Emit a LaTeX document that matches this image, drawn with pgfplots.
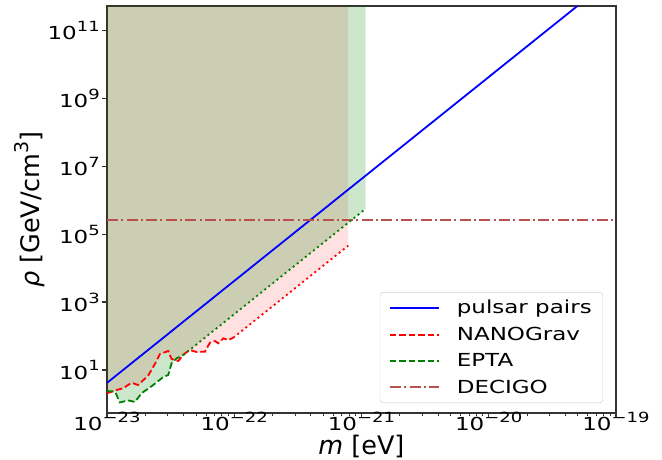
\documentclass[border=0pt]{standalone}
\usepackage{fontspec}
\setmainfont{DejaVu Sans}
\usepackage{graphicx}
\usepackage{pgfplots}
\pgfplotsset{compat=1.18}
\definecolor{decigo}{RGB}{185,80,80}
\definecolor{eptagreen}{RGB}{0,128,0}
\definecolor{nanored}{RGB}{255,0,0}
% text in the reference is a little flattened
\newcommand{\sq}[1]{\scalebox{1}[0.78]{#1}}
\newcommand{\tp}[1]{\sq{10\raisebox{0.45em}{\fontsize{18}{18}\selectfont #1}}}

\begin{document}
\begin{tikzpicture}
\useasboundingbox (-107pt,-46pt) rectangle (555pt,413pt);
\begin{axis}[
  at={(0,0)}, anchor=south west,
  scale only axis, width=509pt, height=407pt,
  xmode=log, ymode=log,
  xmin=1e-23, xmax=1e-19,
  ymin=0.543, ymax=5.13e11,
  xtick={1e-23,1e-22,1e-21,1e-20,1e-19},
  xticklabels={\tp{−23},\tp{−22},\tp{−21},\tp{−20},\tp{−19}},
  minor xtick={2e-23,3e-23,4e-23,5e-23,6e-23,7e-23,8e-23,9e-23,
    2e-22,3e-22,4e-22,5e-22,6e-22,7e-22,8e-22,9e-22,
    2e-21,3e-21,4e-21,5e-21,6e-21,7e-21,8e-21,9e-21,
    2e-20,3e-20,4e-20,5e-20,6e-20,7e-20,8e-20,9e-20},
  ytick={1e1,1e3,1e5,1e7,1e9,1e11},
  yticklabels={\tp{1},\tp{3},\tp{5},\tp{7},\tp{9},\tp{11}},
  minor ytick={},
  tick pos=left,
  tick align=outside,
  major tick length=5pt, minor tick length=3pt,
  every major tick/.style={black!80, line width=1.1pt},
  every minor tick/.style={black!80, line width=0.8pt},
  axis line style={black!80, line width=1.1pt},
  ticklabel style={font=\fontsize{23}{26}\selectfont},
  xticklabel style={inner sep=0.5pt, yshift=6.5pt},
  yticklabel style={inner sep=2pt},
  xlabel={\textit{m} [eV]},
  xlabel style={at={(axis description cs:0.5,0)}, anchor=north, inner sep=0pt, yshift=-21.5pt},
  ylabel={\textit{ρ} [GeV/cm\raisebox{0.45em}{\fontsize{19}{19}\selectfont 3}]},
  ylabel style={yshift=-3pt},
  label style={font=\fontsize{25.5}{29}\selectfont},
  legend style={at={(1,0)}, anchor=south east, xshift=-13pt, yshift=10pt,
    draw=black!20, rounded corners=3pt, fill=white, fill opacity=0.8, text opacity=1,
    font=\fontsize{23}{26}\selectfont, inner xsep=9pt, inner ysep=6pt, row sep=7.7pt,
    /tikz/every odd column/.append style={column sep=15pt}},
  legend cell align=left,
  legend image code/.code={\draw[#1] (0pt,0pt) -- (49pt,0pt);},
]
% filled excluded regions (red drawn first, green on top)
\addplot[forget plot, draw=none, fill=nanored, fill opacity=0.118] coordinates {
  (1.00e-23,2.07) (1.19e-23,2.58) (1.34e-23,2.90) (1.56e-23,4.23) (1.76e-23,3.62)
  (2.11e-23,6.89) (2.38e-23,15.0) (2.61e-23,29.5) (3.03e-23,36.2) (3.22e-23,21.1)
  (3.63e-23,18.4) (4.10e-23,30.9) (4.49e-23,38.7) (5.07e-23,33.9) (5.89e-23,34.5)
  (6.44e-23,63.5) (7.06e-23,71.3) (7.50e-23,61.0) (8.20e-23,85.5) (8.97e-23,76.2)
  (9.84e-23,89.1) (7.87e-22,4.56e4) (7.87e-22,1e12) (1.00e-23,1e12)
} -- cycle;
\addplot[forget plot, draw=none, fill=eptagreen, fill opacity=0.2] coordinates {
  (1.00e-23,2.41) (1.16e-23,2.30) (1.26e-23,1.11) (1.47e-23,1.27) (1.66e-23,1.15)
  (1.87e-23,2.07) (2.31e-23,3.62) (2.77e-23,6.22) (3.03e-23,7.13) (3.22e-23,15.7)
  (3.53e-23,22.1) (3.98e-23,27.6) (1.08e-21,5.57e5) (1.08e-21,1e12) (1.00e-23,1e12)
} -- cycle;
% pulsar pairs
\addplot[blue, line width=1.8pt] coordinates {(1e-23,4.17) (1e-19,4.17e12)};
\addlegendentry{\sq{pulsar pairs}}
% NANOGrav
\addplot[nanored, line width=1.8pt, dash pattern=on 6.5pt off 3pt] coordinates {
  (1.00e-23,2.07) (1.19e-23,2.58) (1.34e-23,2.90) (1.56e-23,4.23) (1.76e-23,3.62)
  (2.11e-23,6.89) (2.38e-23,15.0) (2.61e-23,29.5) (3.03e-23,36.2) (3.22e-23,21.1)
  (3.63e-23,18.4) (4.10e-23,30.9) (4.49e-23,38.7) (5.07e-23,33.9) (5.89e-23,34.5)
  (6.44e-23,63.5) (7.06e-23,71.3) (7.50e-23,61.0) (8.20e-23,85.5) (8.97e-23,76.2)
  (9.84e-23,89.1)};
\addlegendentry{\sq{NANOGrav}}
% EPTA
\addplot[eptagreen, line width=1.8pt, dash pattern=on 6.5pt off 3pt] coordinates {
  (1.00e-23,2.41) (1.16e-23,2.30) (1.26e-23,1.11) (1.47e-23,1.27) (1.66e-23,1.15)
  (1.87e-23,2.07) (2.31e-23,3.62) (2.77e-23,6.22) (3.03e-23,7.13) (3.22e-23,15.7)
  (3.53e-23,22.1) (3.98e-23,27.6)};
\addlegendentry{\sq{EPTA}}
% DECIGO
\addplot[decigo, line width=1.8pt, dash pattern=on 11pt off 3.3pt on 2pt off 3.3pt] coordinates {(1e-23,2.63e5) (1e-19,2.63e5)};
\addlegendentry{\sq{DECIGO}}
% extrapolated parts
\addplot[forget plot, nanored, line width=1.8pt, dash pattern=on 2pt off 3.2pt] coordinates {(9.84e-23,89.1) (7.87e-22,4.56e4)};
\addplot[forget plot, eptagreen, line width=1.8pt, dash pattern=on 2pt off 3.2pt] coordinates {(3.98e-23,27.6) (1.08e-21,5.57e5)};
\end{axis}
\end{tikzpicture}
\end{document}
